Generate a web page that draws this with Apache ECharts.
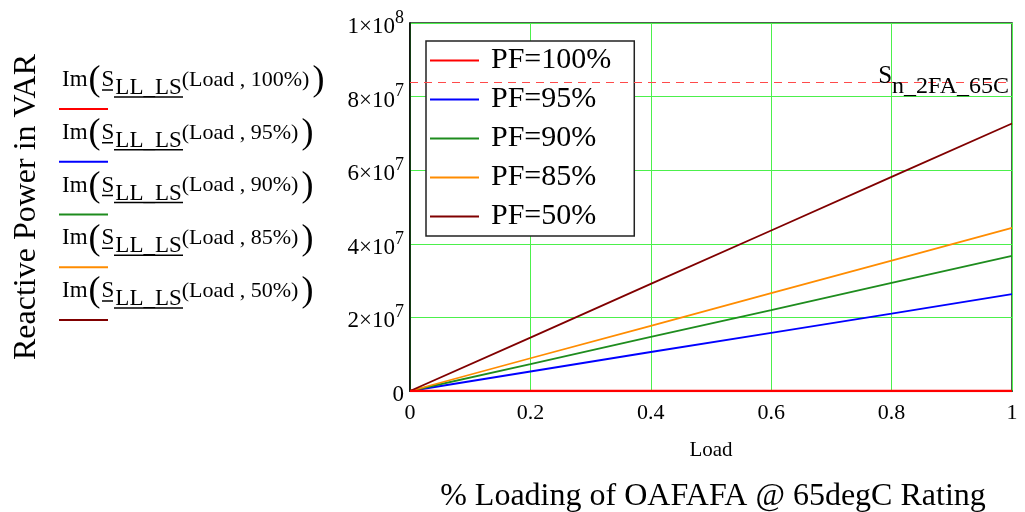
<!DOCTYPE html>
<html>
<head>
<meta charset="utf-8">
<script src="https://cdn.jsdelivr.net/npm/echarts@6/dist/echarts.min.js"></script>
<style>html,body{margin:0;padding:0;background:#fff}#c{width:1025px;height:512px}</style>
</head>
<body>
<div id="c"></div>
<script>
// ---- data ----
var load = [0, 0.2, 0.4, 0.6, 0.8, 1.0];
var pf100 = [0, 0, 0, 0, 0, 0];
var pf95 = [0, 5.3e6, 10.6e6, 15.8e6, 21.0e6, 26.3e6];
var pf90 = [0, 7.3e6, 14.7e6, 22.0e6, 29.4e6, 36.7e6];
var pf85 = [0, 8.9e6, 17.7e6, 26.6e6, 35.4e6, 44.3e6];
var pf50 = [0, 14.5e6, 29.1e6, 43.6e6, 58.2e6, 72.7e6];
var ratingLine = 84.0e6;
var seriesNames = ['PF=100%', 'PF=95%', 'PF=90%', 'PF=85%', 'PF=50%'];
var pfArgs = ['100%', '95%', '90%', '85%', '50%'];
var seriesColors = ['#ff0000', '#0000ff', '#1e8c1e', '#ff8c00', '#800000'];
var xTicks = ['0', '0.2', '0.4', '0.6', '0.8', '1'];

var FONT = 'Liberation Serif';
var chart = echarts.init(document.getElementById('c'));

function pairs(ys) { return load.map(function (x, i) { return [x, ys[i]]; }); }
var allData = [pf100, pf95, pf90, pf85, pf50];

var series = allData.map(function (d, i) {
  var s = {
    name: seriesNames[i], type: 'line', data: pairs(d), showSymbol: false,
    lineStyle: { color: seriesColors[i], width: i === 0 ? 2.5 : 1.8 },
    itemStyle: { color: seriesColors[i] }, z: 3 + (i === 0 ? 5 : 0), animation: false
  };
  if (i === 0) {
    s.markLine = {
      silent: true, symbol: 'none', animation: false,
      lineStyle: { color: '#ff4a4a', type: [8, 6], width: 1 },
      label: {
        show: true, position: 'insideEnd', distance: 3,
        formatter: '{a|S}{b|n_2FA_65C}',
        rich: {
          a: { fontFamily: FONT, fontSize: 25, color: '#000', padding: [0, 0, 10, 0] },
          b: { fontFamily: FONT, fontSize: 24, color: '#000', padding: [10, 0, 0, 0] }
        }
      },
      data: [{ yAxis: ratingLine }]
    };
  }
  return s;
});

// left mathcad-style legend
var graphics = [];
for (var i = 0; i < pfArgs.length; i++) {
  var cy = 82 + 52.75 * i;
  graphics.push({
    type: 'text', left: 62, top: cy - 19, z: 10,
    style: {
      text: '{a|Im}{p|(}{b|S}{c|LL_LS}{d|(Load , ' + pfArgs[i] + ')}{p|)}',
      rich: {
        a: { fontFamily: FONT, fontSize: 23, lineHeight: 40, fill: '#000', padding: [0, 0, 4, 0] },
        p: { fontFamily: FONT, fontSize: 36, lineHeight: 40, fill: '#000', padding: [0, 1, 2, 1] },
        b: { fontFamily: FONT, fontSize: 23, lineHeight: 40, fill: '#000', padding: [0, 1, 4, 0] },
        c: { fontFamily: FONT, fontSize: 23, lineHeight: 40, fill: '#000', padding: [12, 0, 0, 0] },
        d: { fontFamily: FONT, fontSize: 22, lineHeight: 40, fill: '#000', padding: [0, 2, 4, 0] }
      }
    }
  });
  graphics.push({ type: 'line', z: 10, shape: { x1: 102, y1: cy + 8, x2: 113, y2: cy + 8 }, style: { stroke: '#000', lineWidth: 1.5 } });
  graphics.push({ type: 'line', z: 10, shape: { x1: 114, y1: cy + 15, x2: 183, y2: cy + 15 }, style: { stroke: '#000', lineWidth: 1.5 } });
  graphics.push({ type: 'line', z: 10, shape: { x1: 59, y1: 109 + 52.75 * i, x2: 108, y2: 109 + 52.75 * i }, style: { stroke: seriesColors[i], lineWidth: 2 } });
}
graphics.push({
  type: 'text', x: 713, y: 481, z: 10,
  style: { text: '% Loading of OAFAFA @ 65degC Rating', fontFamily: FONT, fontSize: 32, fill: '#000', align: 'center' }
});

var option = {
  animation: false,
  backgroundColor: '#fff',
  grid: { left: 410, right: 13, top: 23, bottom: 121, outerBoundsMode: 'none', show: true, borderColor: '#142814', borderWidth: 1.5, backgroundColor: 'transparent' },
  legend: {
    orient: 'vertical', left: 426, top: 41, data: seriesNames,
    icon: 'rect', itemWidth: 49, itemHeight: 2, itemGap: 8,
    backgroundColor: '#fff', borderColor: '#222', borderWidth: 1.5,
    padding: [4, 23, 4, 4],
    textStyle: { fontFamily: FONT, fontSize: 30, color: '#000', lineHeight: 31, padding: [0, 0, 0, 7] },
    selectedMode: false
  },
  xAxis: {
    type: 'value', min: 0, max: 1, interval: 0.2,
    name: 'Load', nameLocation: 'middle', nameGap: 49,
    nameTextStyle: { fontFamily: FONT, fontSize: 21, color: '#000' },
    axisLine: { show: true, lineStyle: { color: '#000', width: 1.5 } },
    axisTick: { show: false },
    axisLabel: {
      fontFamily: FONT, fontSize: 22, color: '#000', margin: 11,
      formatter: function (v) { return xTicks[Math.round(v / 0.2)]; }
    },
    splitLine: { show: true, lineStyle: { color: '#4cf04c', width: 1 } }
  },
  yAxis: {
    type: 'value', min: 0, max: 1e8, interval: 2e7,
    name: 'Reactive Power in VAR', nameLocation: 'middle', nameGap: 367, nameRotate: 90,
    nameTextStyle: { fontFamily: FONT, fontSize: 32, color: '#000' },
    axisLine: { show: true, lineStyle: { color: '#000', width: 1.5 } },
    axisTick: { show: false },
    axisLabel: {
      fontFamily: FONT, fontSize: 22, color: '#000', margin: 6,
      formatter: function (v) {
        if (v === 0) return '{m|0}';
        if (v >= 1e8) return '{m|1×10}{s|8}';
        return '{m|' + Math.round(v / 1e7) + '×10}{s|7}';
      },
      rich: {
        m: { fontFamily: FONT, fontSize: 23, color: '#000', padding: [8, 0, 0, 0] },
        s: { fontFamily: FONT, fontSize: 18, color: '#000', padding: [0, 0, 10, 0] }
      }
    },
    splitLine: { show: true, lineStyle: { color: '#4cf04c', width: 1 } }
  },
  series: series,
  graphic: graphics
};
chart.setOption(option);
</script>
</body>
</html>
